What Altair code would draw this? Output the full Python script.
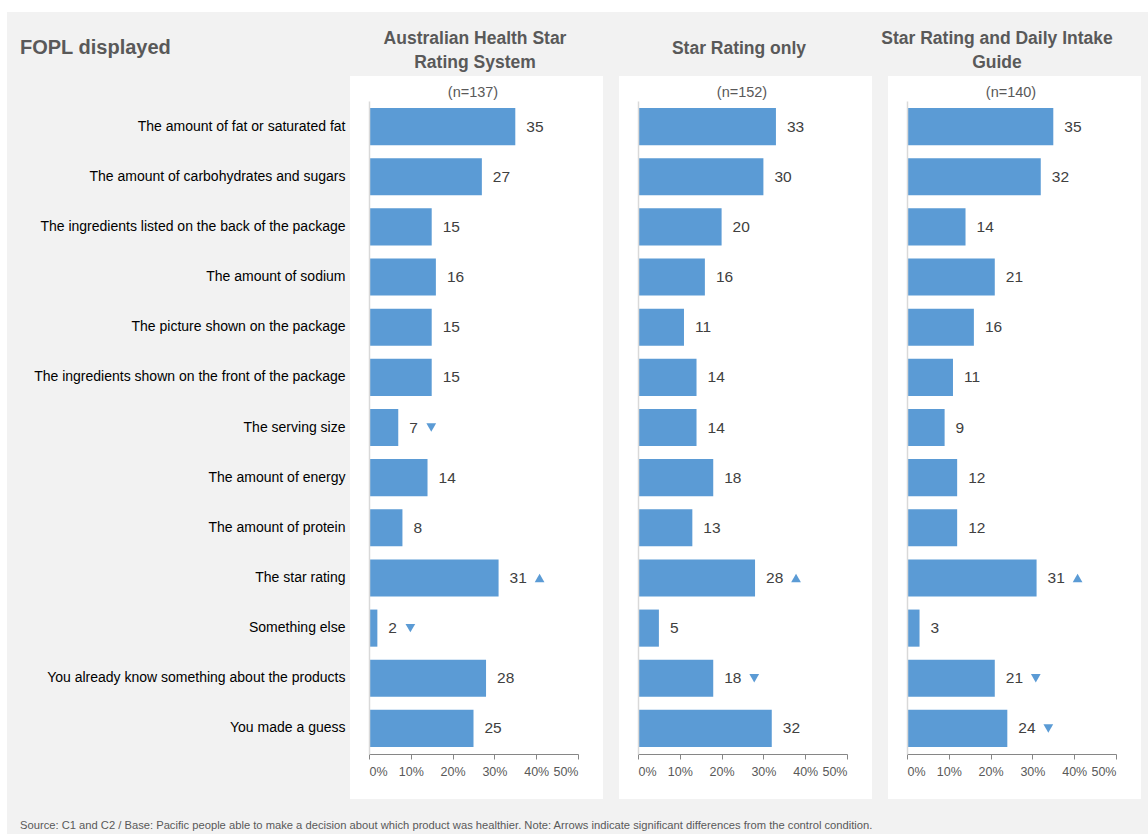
import altair as alt
import pandas as pd

FONT = "Liberation Sans, Arial, sans-serif"

categories = [
    "The amount of fat or saturated fat",
    "The amount of carbohydrates and sugars",
    "The ingredients listed on the back of the package",
    "The amount of sodium",
    "The picture shown on the package",
    "The ingredients shown on the front of the package",
    "The serving size",
    "The amount of energy",
    "The amount of protein",
    "The star rating",
    "Something else",
    "You already know something about the products",
    "You made a guess",
]

vals_hsr = [35, 27, 15, 16, 15, 15, 7, 14, 8, 31, 2, 28, 25]
vals_star = [33, 30, 20, 16, 11, 14, 14, 18, 13, 28, 5, 18, 32]
vals_star_di = [35, 32, 14, 21, 16, 11, 9, 12, 12, 31, 3, 21, 24]

arrows_hsr = ["", "", "", "", "", "", "down", "", "", "up", "down", "", ""]
arrows_star = ["", "", "", "", "", "", "", "", "", "up", "", "down", ""]
arrows_star_di = ["", "", "", "", "", "", "", "", "", "up", "", "down", "down"]

panel_titles = [
    ["Australian Health Star", "Rating System"],
    ["Star Rating only"],
    ["Star Rating and Daily Intake", "Guide"],
]
n_labels = ["(n=137)", "(n=152)", "(n=140)"]
x_ticks = [0, 10, 20, 30, 40, 50]

main_title = "FOPL displayed"
footer = ("Source: C1 and C2 / Base: Pacific people able to make a decision about which product was "
          "healthier. Note: Arrows indicate significant differences from the control condition.")

W, H = 209, 653
BAR = "#5b9bd5"
GREY_TXT = "#595959"
one = pd.DataFrame({"k": [0]})


def txt(s, x, y, size, bold=False, align="center", color=GREY_TXT):
    return alt.Chart(one).mark_text(
        align=align, baseline="middle", font=FONT, fontSize=size,
        fontWeight="bold" if bold else "normal", color=color).encode(
        x=alt.value(x), y=alt.value(y), text=alt.value(s))


def panel(vals, arrows, title_lines, n_label, title_x, first):
    df = pd.DataFrame({"cat": categories, "v": vals, "arrow": arrows})
    if first:
        yaxis = alt.Axis(title=None, ticks=False, domainColor="#d9d9d9", domainWidth=1.5,
                         labelFont=FONT, labelFontSize=14, labelColor="#000000",
                         labelPadding=24, labelLimit=400, zindex=1)
    else:
        yaxis = alt.Axis(title=None, ticks=False, labels=False, domainColor="#d9d9d9",
                         domainWidth=1.5, zindex=1)
    y = alt.Y("cat:N", sort=categories, axis=yaxis,
              scale=alt.Scale(paddingInner=0.26, paddingOuter=0.14))
    ys = alt.Y("cat:N", sort=categories)
    x = alt.X("v:Q", scale=alt.Scale(domain=[0, 50]),
              axis=alt.Axis(title=None, values=x_ticks, labelExpr="datum.value + '%'",
                            grid=False, domainColor="#868686", tickColor="#868686",
                            tickSize=5, labelFont=FONT, labelFontSize=12.5,
                            labelColor=GREY_TXT, labelPadding=6, zindex=1))

    layers = []
    if first:
        layers.append(alt.Chart(one).mark_rect(color="#f2f2f2").encode(
            x=alt.value(-362), x2=alt.value(779), y=alt.value(-89), y2=alt.value(733)))
        layers.append(txt(main_title, -349, -53, 20, bold=True, align="left"))
        layers.append(txt(footer, -349, 725, 11.2, align="left"))
    layers.append(alt.Chart(one).mark_rect(color="white").encode(
        x=alt.value(-19), x2=alt.value(234), y=alt.value(-25), y2=alt.value(698)))
    if len(title_lines) > 1:
        layers.append(txt(title_lines[0], title_x, -62, 17.5, bold=True))
        layers.append(txt(title_lines[1], title_x, -38, 17.5, bold=True))
    else:
        layers.append(txt(title_lines[0], title_x, -52, 17.5, bold=True))
    layers.append(txt(n_label, 104, -8, 14.5))

    base = alt.Chart(df)
    layers.append(base.mark_bar(color=BAR).encode(x=x, y=y))
    layers.append(base.mark_text(align="left", baseline="middle", dx=11, font=FONT,
                                 fontSize=15.5, color="#404040").encode(
        x="v:Q", y=ys, text="v:Q"))
    shape = alt.Shape("arrow:N", scale=alt.Scale(domain=["up", "down"],
                                                 range=["triangle-up", "triangle-down"]),
                      legend=None)
    layers.append(base.transform_filter("datum.arrow != '' && datum.v >= 10").mark_point(
        filled=True, size=95, color=BAR, opacity=1, xOffset=41).encode(
        x="v:Q", y=ys, shape=shape))
    layers.append(base.transform_filter("datum.arrow != '' && datum.v < 10").mark_point(
        filled=True, size=95, color=BAR, opacity=1, xOffset=33).encode(
        x="v:Q", y=ys, shape=shape))
    return alt.layer(*layers).properties(width=W, height=H)


p1 = panel(vals_hsr, arrows_hsr, panel_titles[0], n_labels[0], 106, True)
p2 = panel(vals_star, arrows_star, panel_titles[1], n_labels[1], 101, False)
p3 = panel(vals_star_di, arrows_star_di, panel_titles[2], n_labels[2], 90, False)

chart = alt.hconcat(p1, p2, p3, spacing=60, bounds="flush").properties(
    background="white",
    padding={"left": 7, "top": 12, "right": 0, "bottom": 0},
).configure_view(stroke=None)

chart.save("out.html", embed_options={"renderer": "svg", "actions": False})
